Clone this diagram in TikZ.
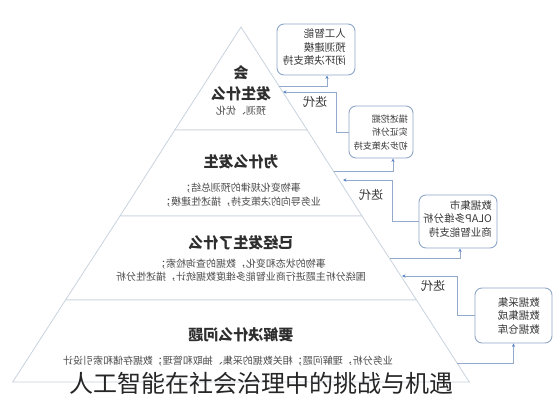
\documentclass[tikz,border=0pt]{standalone}
\usepackage{fontspec}
\setmainfont{Noto Sans CJK SC}
\usepackage{graphicx}
\usetikzlibrary{arrows.meta}
\definecolor{pyr}{HTML}{C9D3DE}
\definecolor{con}{HTML}{93AACB}
\definecolor{tipc}{HTML}{5A86C6}
\definecolor{boxc}{HTML}{8FA7CA}
\newcommand{\mir}[1]{\reflectbox{#1}}
\begin{document}
\begin{tikzpicture}[x=1pt,y=-1pt,
  layer/.style={draw=pyr, line width=0.8pt, fill=white},
  ttl/.style={font=\fontsize{15}{18}\selectfont\bfseries, text=black!82, inner sep=0pt},
  body/.style={font=\fontsize{10}{13}\selectfont, text=black!70, inner sep=0pt},
  box/.style={draw=boxc, line width=0.9pt, rounded corners=7pt, fill=white, inner sep=0pt},
  btxt/.style={font=\fontsize{10.5}{13.5}\selectfont, text=black!78, inner sep=0pt},
  conn/.style={draw=con, line width=0.8pt, -{Stealth[length=3.5pt,width=3.2pt,color=tipc]}},
  iter/.style={font=\fontsize{12}{14}\selectfont, text=black!80, inner sep=0pt}]
\useasboundingbox (0,0) rectangle (558,400);
\fill[white] (0,0) rectangle (558,400);
% pyramid layers
\draw[layer] (241,27) -- (307.2,130) -- (174.8,130) -- cycle;
\draw[layer] (174.8,130) -- (307.2,130) -- (362,216) -- (120,216) -- cycle;
\draw[layer] (120,216) -- (362,216) -- (416.5,300) -- (65.5,300) -- cycle;
\draw[layer] (65.5,300) -- (416.5,300) -- (469.3,382) -- (12.7,382) -- cycle;
% layer texts
\node[ttl] (t1a) at (241,73) {\mir{会}};
\node[ttl] (t1b) at (241,94) {\mir{发生什么}};
\node[body] (t1c) at (241,111) {\mir{预测、优化}};
\node[ttl] (t2a) at (241,162) {\mir{为什么发生}};
\node[body] (t2b) at (241,188) {\mir{事物变化规律的预测总结；}};
\node[body] (t2c) at (241,202) {\mir{业务导向的决策支持，描述性建模；}};
\node[ttl] (t3a) at (241,243) {\mir{已经发生了什么}};
\node[body] (t3b) at (241,264) {\mir{事物的状态和变化，数据的查询检索；}};
\node[body] (t3c) at (241,277) {\mir{围绕分析主题进行商业智能多维度数据统计，描述性分析}};
\node[ttl] (t4a) at (241,335) {\mir{要解决什么问题}};
\node[body] (t4b) at (228,361) {\mir{业务分析，理解问题；相关数据的采集、抽取和管理；数据存储和索引设计}};
% boxes
\node[box, minimum width=78pt, minimum height=51pt] (b1) at (316,49.5) {};
\node[btxt, anchor=east] (b1t) at (346,48.5) {\mir{\begin{tabular}{@{}l@{}}人工智能\\预测建模\\闭环决策支持\end{tabular}}};
\node[box, minimum width=64pt, minimum height=52pt] (b2) at (381,132) {};
\node[btxt, anchor=east, font=\fontsize{9}{13.5}\selectfont] (b2t) at (408,133) {\mir{\begin{tabular}{@{}l@{}}描述挖掘\\实证分析\\初步决策支持\end{tabular}}};
\node[box, minimum width=78pt, minimum height=53pt] (b3) at (458,221.5) {};
\node[btxt, anchor=east] (b3t) at (492,220) {\mir{\begin{tabular}{@{}l@{}}数据集市\\OLAP多维分析\\商业智能支持\end{tabular}}};
\node[box, minimum width=77pt, minimum height=55pt] (b4) at (513.5,315.5) {};
\node[btxt, anchor=east] (b4t) at (540,317) {\mir{\begin{tabular}{@{}l@{}}数据采集\\数据集成\\数据仓库\end{tabular}}};
% pyramid edge points
\coordinate (p1) at (279,86);
\coordinate (p2) at (283,92);
\coordinate (p3) at (334,171);
\coordinate (p4) at (343,180);
\coordinate (p5) at (389.5,258);
\coordinate (p6) at (402,276);
\coordinate (p7) at (457,363);
% connectors
\draw[conn] (p1) -| ([xshift=11pt]b1.south);
\draw[conn] (b2.west) -- ++(-12,0) |- (p2);
\draw[conn] (p3) -| ([xshift=12pt]b2.south);
\draw[conn] (b3.west) -- ++(-26,0) |- (p4);
\draw[conn] (p5) -| ([xshift=2pt]b3.south);
\draw[conn] (b4.west) -- ++(-17,0) |- (p6);
\draw[conn] (p7) -| (b4.south);
% iteration labels
\node[iter] (i1) at (315,102) {\mir{迭代}};
\node[iter] (i2) at (371,195) {\mir{迭代}};
\node[iter] (i3) at (433,286) {\mir{迭代}};
% caption
\node[font=\fontsize{24}{28}\selectfont, text=black!85, inner sep=0pt] (cap) at (262,383) {人工智能在社会治理中的挑战与机遇};
\end{tikzpicture}
\end{document}
